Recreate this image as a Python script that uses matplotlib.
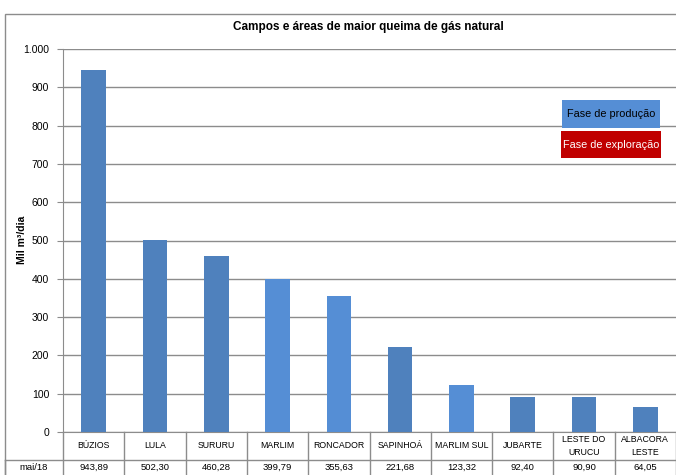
"""
Campos e áreas de maior queima de gás natural - bar chart with data table
"""

import matplotlib.pyplot as plt
from matplotlib.patches import Rectangle

# dados
campos = ['BÚZIOS', 'LULA', 'SURURU', 'MARLIM', 'RONCADOR', 'SAPINHOÁ',
          'MARLIM SUL', 'JUBARTE', 'LESTE DO\nURUCU', 'ALBACORA\nLESTE']
queima = [943.89, 502.30, 460.28, 399.79, 355.63, 221.68, 123.32, 92.40, 90.90, 64.05]
fase = ['a', 'a', 'a', 'b', 'b', 'a', 'b', 'a', 'a', 'a']
periodo = 'mai/18'
yticks = [0, 100, 200, 300, 400, 500, 600, 700, 800, 900, 1000]

cores = {'a': '#4F81BD', 'b': '#558ED5'}
grade = '#8C8C8C'

plt.rcParams['font.family'] = ['Liberation Sans', 'DejaVu Sans']

W, H = 676, 475
fig = plt.figure(figsize=(W / 100, H / 100), dpi=100)

# moldura externa
fig.patches.append(Rectangle((5 / W, -0.1), 1.2, (H - 14) / H + 0.1, transform=fig.transFigure,
                             fill=False, edgecolor='#8C8C8C', linewidth=1))

ax = fig.add_axes([63 / W, (H - 432) / H, (676 - 63) / W, (432 - 49) / H])
x = range(len(campos))
ax.bar(x, queima, width=0.4, color=[cores[f] for f in fase], zorder=3)
ax.set_xlim(-0.5, len(campos) - 0.5)
ax.set_ylim(0, 1000)
ax.set_yticks(yticks)
ax.set_yticklabels([f'{v:,}'.replace(',', '.') for v in yticks], fontsize=7.5)
ax.tick_params(axis='y', length=4, color=grade, pad=6)
ax.set_xticks([])
ax.grid(axis='y', color=grade, linewidth=1, zorder=0)
for s in ['top', 'right']:
    ax.spines[s].set_visible(False)
ax.spines['left'].set_color(grade)
ax.spines['bottom'].set_color(grade)
fig.text(22 / W, (H - 240) / H, 'Mil m³/dia', rotation=90, ha='center', va='center',
         fontsize=7.5, fontweight='bold')
fig.text(0.5 + 30 / W, (H - 27) / H, 'Campos e áreas de maior queima de gás natural',
         ha='center', va='center', fontsize=8.5, fontweight='bold')

# tabela de dados
tr = ax.get_xaxis_transform()
row1 = -(460 - 432) / (432 - 49)
row2 = -(478 - 432) / (432 - 49)
for i in range(len(campos) + 1):
    ax.plot([i - 0.5, i - 0.5], [0, row2], transform=tr, color=grade, lw=1, clip_on=False)
x0 = -0.5 - (63 - 5) / ((676 - 63) / len(campos))
ax.plot([x0, len(campos)], [row1, row1], transform=tr, color=grade, lw=1, clip_on=False)
ax.plot([x0, x0], [row1, row2], transform=tr, color=grade, lw=1, clip_on=False)
for i, (c, v) in enumerate(zip(campos, queima)):
    ax.text(i, row1 / 2, c, transform=tr, ha='center', va='center', fontsize=6.3, linespacing=1.5)
    ax.text(i, (row1 + row2) / 2 + 0.005, f'{v:.2f}'.replace('.', ','), transform=tr,
            ha='center', va='center', fontsize=6.8)
ax.text((x0 - 0.5) / 2, (row1 + row2) / 2 + 0.005, periodo, transform=tr,
        ha='center', va='center', fontsize=6.8)

# legenda
legenda = [('Fase de produção', '#558ED5', 'black', 562, 100, 98, 28),
           ('Fase de exploração', '#C00000', 'white', 561, 131, 100, 27)]
for txt, fc, tc, lx, ly, lw, lh in legenda:
    fig.patches.append(Rectangle((lx / W, (H - ly - lh) / H), lw / W, lh / H,
                                 transform=fig.transFigure, fc=fc, ec='none', zorder=5))
    fig.text((lx + lw / 2) / W, (H - ly - lh / 2) / H, txt, ha='center', va='center',
             fontsize=7.8, color=tc, zorder=6)

plt.savefig('out.png', dpi=100)
